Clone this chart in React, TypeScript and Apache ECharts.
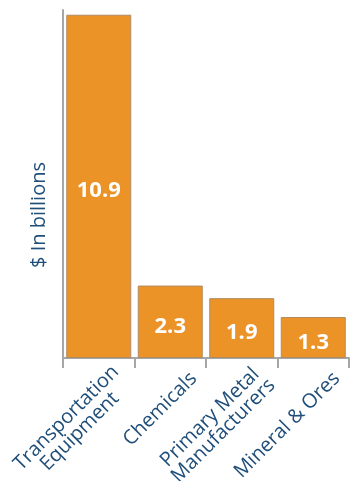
import React, { useEffect, useRef } from "react";
import * as echarts from "echarts";

const categories = [
  "Transportation\nEquipment",
  "Chemicals",
  "Primary Metal\nManufacturers",
  "Mineral & Ores",
];
const values = [10.9, 2.3, 1.9, 1.3];
const yAxisName = "$ In billions";

const BLUE = "#1F4E79";
const GRAY = "#A6A6A6";

export default function App() {
  const ref = useRef<HTMLDivElement>(null);
  useEffect(() => {
    if (!ref.current) return;
    const chart = echarts.init(ref.current, null, { renderer: "svg" });
    chart.setOption({
      animation: false,
      grid: { left: 63, right: 6, top: 10, bottom: 123, containLabel: false, outerBoundsMode: "none" },
      xAxis: {
        type: "category",
        data: categories,
        axisLine: { lineStyle: { color: GRAY, width: 2 } },
        axisTick: { show: true, length: 10, lineStyle: { color: GRAY, width: 2 } },
        axisLabel: {
          interval: 0,
          rotate: 45,
          margin: -6,
          padding: [63, 0, 0, 0],
          formatter: (v: string) =>
            v
              .split("\n")
              .map((s) => `{a|${s}}`)
              .join("\n"),
          rich: {
            a: {
              align: "center",
              fontSize: 20,
              lineHeight: 19,
              color: BLUE,
              fontFamily: "Open Sans",
            },
          },
        },
      },
      yAxis: {
        type: "value",
        min: 0,
        max: 11.05,
        axisLine: { show: true, lineStyle: { color: GRAY, width: 2 } },
        axisTick: { show: false },
        axisLabel: { show: false },
        splitLine: { show: false },
      },
      graphic: [
        {
          type: "text",
          x: 37,
          y: 215,
          rotation: Math.PI / 2,
          style: {
            text: yAxisName,
            fontSize: 20,
            fontFamily: "Open Sans",
            fill: BLUE,
            align: "center",
            verticalAlign: "middle",
          },
        },
      ],
      series: [
        {
          type: "bar",
          data: values,
          barWidth: 65,
          itemStyle: {
            color: "#EC9328",
            borderColor: "#B08A60",
            borderWidth: 1,
          },
          label: {
            show: true,
            position: "inside",
            offset: [0, 2],
            color: "#FFFFFF",
            fontSize: 22,
            fontWeight: "bold",
            fontFamily: "Open Sans",
          },
        },
      ],
    });
    return () => chart.dispose();
  }, []);
  return (
    <div
      ref={ref}
      style={{ position: "fixed", left: 0, top: 0, width: 355, height: 481 }}
    />
  );
}
